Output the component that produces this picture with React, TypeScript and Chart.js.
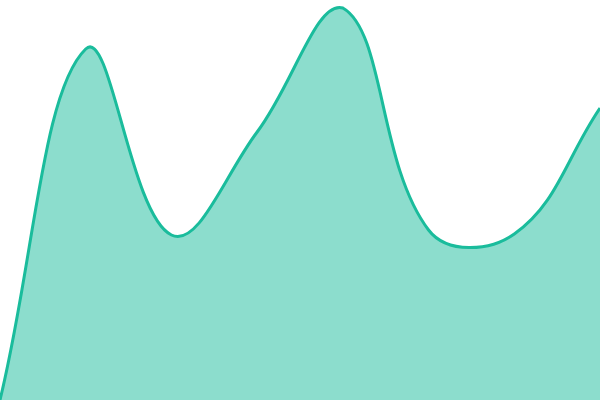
import React, { useEffect, useRef } from "react";
import Chart from "chart.js/auto";

const labels = ["1", "2", "3", "4", "5", "6", "7", "8"];
// values on a 0..400 scale (top of chart = 400)
const values = [0, 351, 165, 268, 392, 170, 166, 292];

const LINE = "#1abc9c";
const FILL = "rgba(26,188,156,0.5)";

export default function App() {
  const canvasRef = useRef<HTMLCanvasElement | null>(null);

  useEffect(() => {
    const canvas = canvasRef.current;
    if (!canvas) return;
    const chart = new Chart(canvas, {
      type: "line",
      data: {
        labels,
        datasets: [
          {
            data: values,
            borderColor: LINE,
            backgroundColor: FILL,
            borderWidth: 3,
            pointRadius: 0,
            tension: 0.4,
            fill: true,
          },
        ],
      },
      options: {
        animation: false,
        responsive: false,
        layout: { padding: 0 },
        plugins: {
          legend: { display: false },
          tooltip: { enabled: false },
          title: { display: false },
        },
        scales: {
          x: { display: false },
          y: { display: false, min: 0, max: 400 },
        },
      },
    });
    return () => chart.destroy();
  }, []);

  return (
    <div style={{ position: "fixed", left: 0, top: 0, width: 600, height: 400, background: "#fff" }}>
      <canvas ref={canvasRef} width={600} height={400} />
    </div>
  );
}
